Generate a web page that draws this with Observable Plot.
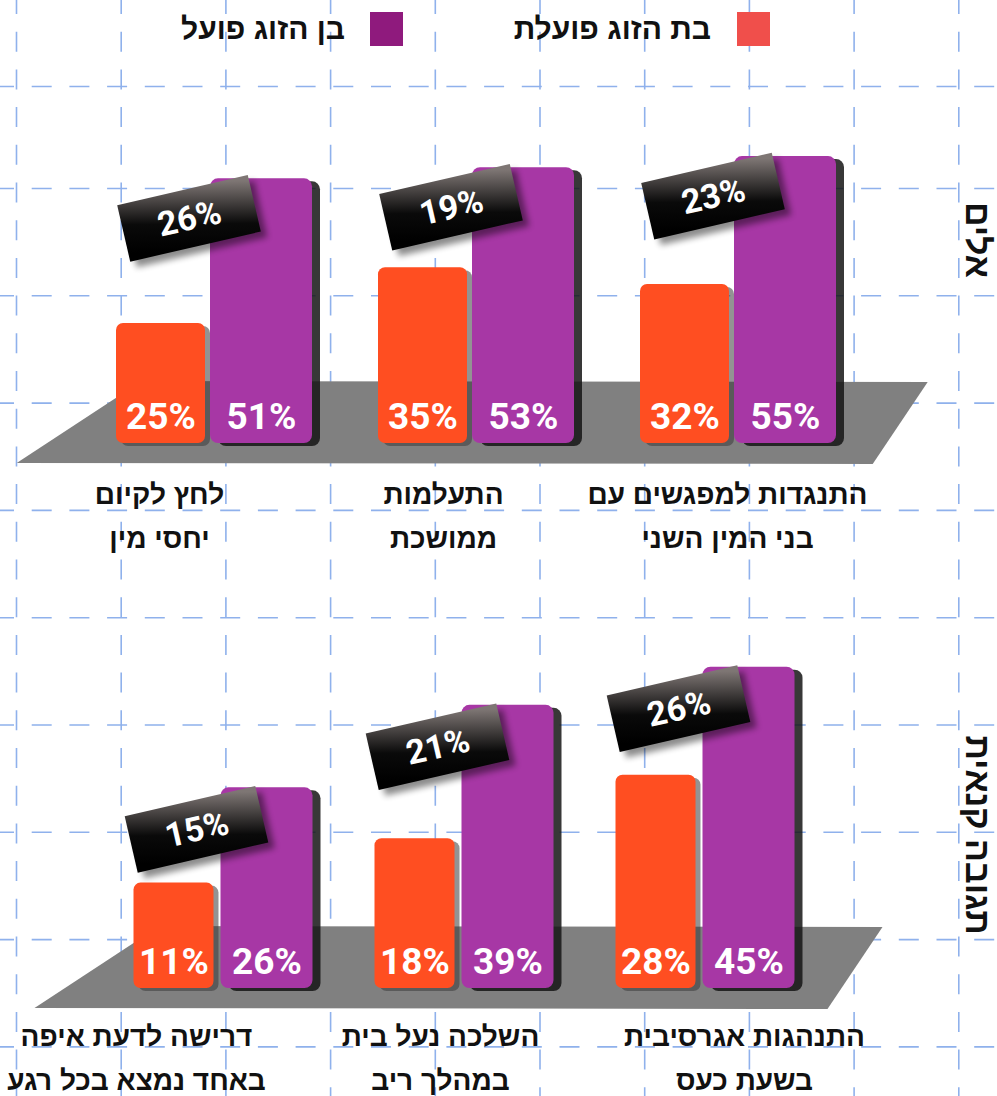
<!DOCTYPE html>
<html><head><meta charset="utf-8">
<script src="https://cdn.jsdelivr.net/npm/d3@7"></script>
<script src="https://cdn.jsdelivr.net/npm/@observablehq/plot@0.6"></script>
<style>
body{margin:0;background:#fff;}
#c{position:relative;width:997px;height:1096px;overflow:hidden;font-family:"Liberation Sans",Arial,sans-serif;}
.lg-sw{position:absolute;width:33px;height:34px;top:12px;}
.lg-tx{position:absolute;top:10px;font-weight:700;font-size:30px;direction:rtl;line-height:38px;white-space:nowrap;color:#111;}
.side{position:absolute;font-weight:700;font-size:34px;direction:rtl;white-space:nowrap;line-height:36px;color:#111;transform:translate(-50%,-50%) rotate(90deg);}
</style></head><body><div id="c"></div>
<script>
// ---------- data ----------
const seriesNames = ["בת הזוג פועלת", "בן הזוג פועל"];
const seriesColors = ["#ff4e21", "#a737a5"];
const legendColors = ["#f04f4b", "#8f1a7d"];
const panelTitles = ["אלים", "תגובה קנאית"];

const topCategories = ["התנגדות למפגשים עם\nבני המין השני", "התעלמות\nממושכת", "לחץ לקיום\nיחסי מין"];
const topHer = [32, 35, 25];
const topHim = [55, 53, 51];
const topGap = [23, 19, 26];

const bottomCategories = ["התנהגות אגרסיבית\nבשעת כעס", "השלכה נעל בית\nבמהלך ריב", "דרישה לדעת איפה\nבאחד נמצא בכל רגע"];
const bottomHer = [28, 18, 11];
const bottomHim = [45, 39, 26];
const bottomGap = [26, 21, 15];

// ---------- layout ----------
const C = document.getElementById("c");
function place(node, top) {
  node.style.position = "absolute";
  node.style.left = "0px";
  node.style.top = top + "px";
  C.appendChild(node);
}

// background grid
const gridXs = d3.range(16, 997, 104.7);
const gridYs = [86, ...d3.range(188, 1096, 107.3)];
const gridStyle = {stroke: "#8fb1ec", strokeWidth: 1.6, strokeDasharray: "20 17.7", strokeDashoffset: 6};
place(Plot.plot({
  width: 997, height: 1096, margin: 0,
  x: {domain: [0, 997], axis: null},
  y: {domain: [0, 1096], range: [0, 1096], axis: null},
  style: {background: "transparent"},
  marks: [Plot.ruleX(gridXs, gridStyle), Plot.ruleY(gridYs, gridStyle)]
}), 0);

// legend
function legendItem(color, text, swLeft, textRight) {
  const sw = document.createElement("div");
  sw.className = "lg-sw"; sw.style.left = swLeft + "px"; sw.style.background = color;
  C.appendChild(sw);
  const tx = document.createElement("div");
  tx.className = "lg-tx"; tx.style.right = (997 - textRight) + "px"; tx.textContent = text;
  C.appendChild(tx);
}
legendItem(legendColors[0], seriesNames[0], 737, 711);
legendItem(legendColors[1], seriesNames[1], 370, 345);

// side titles
function sideTitle(text, cx, cy) {
  const d = document.createElement("div");
  d.className = "side"; d.textContent = text;
  d.style.left = cx + "px"; d.style.top = cy + "px";
  C.appendChild(d);
}

function panel(cfg) {
  const rows = cfg.cats.map((c, i) => ({c, her: cfg.her[i], him: cfg.him[i], gap: cfg.gap[i]}));
  const frameH = cfg.base - cfg.svgTop;
  const yMax = cfg.yMin + frameH / cfg.pxPer;
  const bw = (cfg.range[1] - cfg.range[0]) / rows.length;
  const half = bw / 2;
  const herInset = {insetLeft: half + cfg.o[0], insetRight: half - cfg.o[1]};
  const himInset = {insetLeft: half + cfg.p[0], insetRight: half - cfg.p[1]};
  const base = () => cfg.yMin;

  const floorMark = (index, scales, values, dims) => {
    const r0 = dims.marginLeft, r1 = dims.width - dims.marginRight;
    const yb = dims.height - dims.marginBottom;
    return d3.create("svg:polygon")
      .attr("points", [[r0 + 59, yb - 62], [r1 + 59, yb - 61], [r1 + 4, yb + 21], [r0 - 66, yb + 20]].join(" "))
      .attr("fill", "#808080").node();
  };

  const boxMark = (index, scales, values, dims) => {
    const g = d3.create("svg:g");
    const id = cfg.id;
    const defs = g.append("defs");
    const lg = defs.append("linearGradient").attr("id", id + "g")
      .attr("x1", 0.3).attr("y1", 1).attr("x2", 0.8).attr("y2", 0);
    lg.append("stop").attr("offset", "0%").attr("stop-color", "#000");
    lg.append("stop").attr("offset", "40%").attr("stop-color", "#0a0a0a");
    lg.append("stop").attr("offset", "100%").attr("stop-color", "#7e7674");
    defs.append("filter").attr("id", id + "f").attr("x", "-30%").attr("y", "-30%")
      .attr("width", "160%").attr("height", "180%")
      .append("feGaussianBlur").attr("stdDeviation", 3);
    const bwd = scales.x.bandwidth ? scales.x.bandwidth() : bw;
    for (const d of rows) {
      const cx = scales.x(d.c) + bwd / 2 + cfg.boxD[0];
      const cy = scales.y(d.him) + cfg.boxD[1];
      const t = g.append("g").attr("transform", `translate(${cx},${cy}) rotate(-13)`);
      t.append("rect").attr("x", -62).attr("y", -22).attr("width", 134).attr("height", 58)
        .attr("fill", "#000").attr("opacity", 0.45).attr("filter", `url(#${id}f)`);
      t.append("rect").attr("x", -67).attr("y", -29).attr("width", 134).attr("height", 58)
        .attr("fill", `url(#${id}g)`);
    }
    return g.node();
  };

  const valFont = {fill: "white", fontFamily: "Roboto", fontWeight: 700, fontSize: 37, frameAnchor: "bottom", lineAnchor: "bottom", dy: -15};

  return Plot.plot({
    width: 997, height: cfg.svgHeight,
    marginTop: 0, marginBottom: cfg.svgHeight - frameH,
    marginLeft: cfg.range[0], marginRight: 997 - cfg.range[1],
    x: {domain: cfg.cats.slice().reverse(), padding: 0, axis: null},
    y: {domain: [cfg.yMin, yMax], axis: null},
    style: {background: "transparent", overflow: "visible"},
    marks: [
      floorMark,
      Plot.barY(rows, {x: "c", y1: base, y2: "her", ...herInset, fill: "#3a3a3a", fillOpacity: 0.55, dx: 5, dy: 3, rx: 7}),
      Plot.barY(rows, {x: "c", y1: base, y2: "him", ...himInset, fill: "#151515", fillOpacity: 0.85, dx: 8, dy: 3, rx: 8}),
      Plot.barY(rows, {x: "c", y1: base, y2: "her", ...herInset, fill: seriesColors[0], rx: 7}),
      Plot.barY(rows, {x: "c", y1: base, y2: "him", ...himInset, fill: seriesColors[1], rx: 8}),
      Plot.text(rows, {x: "c", text: d => d.her + "%", dx: (cfg.o[0] + cfg.o[1]) / 2, ...valFont}),
      Plot.text(rows, {x: "c", text: d => d.him + "%", dx: (cfg.p[0] + cfg.p[1]) / 2, ...valFont}),
      boxMark,
      Plot.text(rows, {x: "c", y: "him", text: d => d.gap + "%", dx: cfg.boxD[0], dy: cfg.boxD[1], rotate: -13,
        fill: "white", fontFamily: "Roboto", fontWeight: 700, fontSize: 34})
    ]
  });
}

function labels(cats, range, height) {
  return Plot.plot({
    width: 997, height, margin: 0,
    x: {type: "point", domain: cats.slice().reverse(), range, padding: 0, axis: null},
    style: {background: "transparent", overflow: "visible"},
    marks: [Plot.text(cats, {x: d => d, text: d => d, frameAnchor: "top", lineAnchor: "top",
      fontFamily: "Liberation Sans", fontWeight: 700, fontSize: 28, lineHeight: 1.55, fill: "#111"})]
  });
}

place(panel({id: "pt", cats: topCategories, her: topHer, him: topHim, gap: topGap,
  svgTop: 100, svgHeight: 380, base: 443, yMin: 3.4, pxPer: 5.56, range: [82.7, 868.7],
  o: [-98, -9], p: [-4, 98], boxD: [-25, 40]}), 100);
place(labels(topCategories, [159, 727], 80), 473);

place(panel({id: "pb", cats: bottomCategories, her: bottomHer, him: bottomHim, gap: bottomGap,
  svgTop: 620, svgHeight: 400, base: 988, yMin: -5.6, pxPer: 6.35, range: [100.5, 823.5],
  o: [-88, -8], p: [-1, 91], boxD: [-25, 42]}), 620);
place(labels(bottomCategories, [135, 744], 72), 1015);

sideTitle(panelTitles[0], 978, 240);
sideTitle(panelTitles[1], 978, 835);
</script></body></html>
